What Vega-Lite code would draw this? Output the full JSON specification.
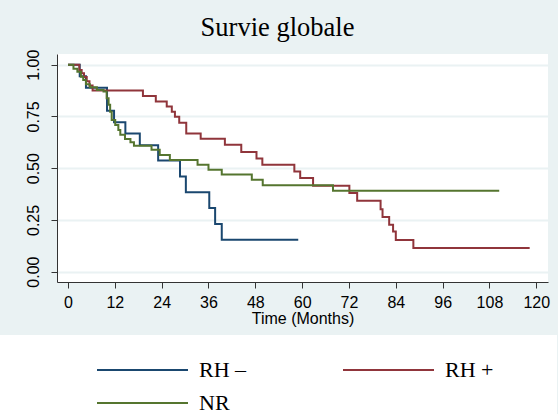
{
  "$schema": "https://vega.github.io/schema/vega-lite/v6.json",
  "width": 491,
  "height": 228,
  "autosize": {"type": "none"},
  "padding": {"left": 57, "top": 54, "right": 10, "bottom": 132},
  "background": "#EAF2F3",
  "view": {"fill": "white", "stroke": null},
  "title": {"text": "Survie globale", "font": "Liberation Serif", "fontSize": 26.5, "fontWeight": "normal", "color": "black", "anchor": "middle", "frame": "group", "dx": -25, "offset": 8},
  "data": {"values": [
    {"g": "RH –", "t": 0, "s": 1},
    {"g": "RH –", "t": 3.0, "s": 0.944},
    {"g": "RH –", "t": 4.6, "s": 0.889},
    {"g": "RH –", "t": 10.0, "s": 0.778},
    {"g": "RH –", "t": 11.8, "s": 0.722},
    {"g": "RH –", "t": 14.7, "s": 0.667},
    {"g": "RH –", "t": 18.4, "s": 0.611},
    {"g": "RH –", "t": 23.1, "s": 0.537},
    {"g": "RH –", "t": 28.7, "s": 0.46},
    {"g": "RH –", "t": 30.2, "s": 0.384},
    {"g": "RH –", "t": 36.2, "s": 0.307},
    {"g": "RH –", "t": 37.7, "s": 0.23},
    {"g": "RH –", "t": 39.4, "s": 0.154},
    {"g": "RH –", "t": 59.0, "s": 0.154},
    {"g": "RH +", "t": 0, "s": 1},
    {"g": "RH +", "t": 2.9, "s": 0.974},
    {"g": "RH +", "t": 3.5, "s": 0.958},
    {"g": "RH +", "t": 4.1, "s": 0.94},
    {"g": "RH +", "t": 4.8, "s": 0.92},
    {"g": "RH +", "t": 5.5, "s": 0.9},
    {"g": "RH +", "t": 6.3, "s": 0.875},
    {"g": "RH +", "t": 19.2, "s": 0.849},
    {"g": "RH +", "t": 22.5, "s": 0.822},
    {"g": "RH +", "t": 25.3, "s": 0.798},
    {"g": "RH +", "t": 26.6, "s": 0.773},
    {"g": "RH +", "t": 27.4, "s": 0.749},
    {"g": "RH +", "t": 28.5, "s": 0.72},
    {"g": "RH +", "t": 30.3, "s": 0.668},
    {"g": "RH +", "t": 34.0, "s": 0.642},
    {"g": "RH +", "t": 40.2, "s": 0.613},
    {"g": "RH +", "t": 44.4, "s": 0.578},
    {"g": "RH +", "t": 48.3, "s": 0.547},
    {"g": "RH +", "t": 49.8, "s": 0.516},
    {"g": "RH +", "t": 58.0, "s": 0.484},
    {"g": "RH +", "t": 59.5, "s": 0.452},
    {"g": "RH +", "t": 62.8, "s": 0.415},
    {"g": "RH +", "t": 72.1, "s": 0.38},
    {"g": "RH +", "t": 74.1, "s": 0.343},
    {"g": "RH +", "t": 80.1, "s": 0.302},
    {"g": "RH +", "t": 80.6, "s": 0.264},
    {"g": "RH +", "t": 82.3, "s": 0.227},
    {"g": "RH +", "t": 83.3, "s": 0.194},
    {"g": "RH +", "t": 84.0, "s": 0.153},
    {"g": "RH +", "t": 88.5, "s": 0.114},
    {"g": "RH +", "t": 118.3, "s": 0.114},
    {"g": "NR", "t": 0, "s": 1},
    {"g": "NR", "t": 1.4, "s": 0.98},
    {"g": "NR", "t": 2.4, "s": 0.966},
    {"g": "NR", "t": 3.3, "s": 0.942},
    {"g": "NR", "t": 3.9, "s": 0.926},
    {"g": "NR", "t": 4.6, "s": 0.905},
    {"g": "NR", "t": 5.6, "s": 0.891},
    {"g": "NR", "t": 7.4, "s": 0.878},
    {"g": "NR", "t": 9.1, "s": 0.87},
    {"g": "NR", "t": 9.9, "s": 0.838},
    {"g": "NR", "t": 10.4, "s": 0.806},
    {"g": "NR", "t": 10.8, "s": 0.773},
    {"g": "NR", "t": 11.2, "s": 0.733},
    {"g": "NR", "t": 12.1, "s": 0.709},
    {"g": "NR", "t": 12.9, "s": 0.685},
    {"g": "NR", "t": 13.4, "s": 0.661},
    {"g": "NR", "t": 14.6, "s": 0.641},
    {"g": "NR", "t": 16.0, "s": 0.625},
    {"g": "NR", "t": 16.9, "s": 0.608},
    {"g": "NR", "t": 21.4, "s": 0.589},
    {"g": "NR", "t": 23.5, "s": 0.564},
    {"g": "NR", "t": 26.1, "s": 0.54},
    {"g": "NR", "t": 33.2, "s": 0.516},
    {"g": "NR", "t": 36.0, "s": 0.492},
    {"g": "NR", "t": 39.4, "s": 0.469},
    {"g": "NR", "t": 47.1, "s": 0.444},
    {"g": "NR", "t": 49.9, "s": 0.418},
    {"g": "NR", "t": 67.9, "s": 0.391},
    {"g": "NR", "t": 110.5, "s": 0.391}
  ]},
  "mark": {"type": "line", "interpolate": "step-after", "strokeWidth": 2},
  "encoding": {
    "x": {
      "field": "t", "type": "quantitative",
      "scale": {"domain": [-2.82, 123], "nice": false, "zero": false},
      "axis": {
        "values": [0, 12, 24, 36, 48, 60, 72, 84, 96, 108, 120],
        "title": "Time (Months)",
        "grid": false,
        "domainColor": "#333333", "tickColor": "#333333", "tickSize": 6,
        "labelFont": "Liberation Sans", "labelFontSize": 16, "labelColor": "black", "labelPadding": 6,
        "labelFlush": false, "labelOverlap": false,
        "titleFont": "Liberation Sans", "titleFontSize": 16, "titleFontWeight": "normal", "titleColor": "black", "titlePadding": 0
      }
    },
    "y": {
      "field": "s", "type": "quantitative",
      "scale": {"domain": [-0.05, 1.0516], "nice": false, "zero": false},
      "axis": {
        "values": [0, 0.25, 0.5, 0.75, 1],
        "format": ".2f",
        "title": null,
        "grid": true, "gridColor": "#EAF2F3", "gridWidth": 2,
        "domainColor": "#333333", "tickColor": "#333333", "tickSize": 6,
        "labelAngle": 270,
        "labelFont": "Liberation Sans", "labelFontSize": 16, "labelColor": "black", "labelPadding": 10,
        "labelFlush": false, "labelOverlap": false
      }
    },
    "color": {
      "field": "g", "type": "nominal",
      "scale": {"domain": ["RH –", "RH +", "NR"], "range": ["#1a476f", "#90353b", "#55752f"]},
      "legend": {
        "orient": "none", "legendX": -57, "legendY": 281, "direction": "horizontal",
        "title": "\u2003", "titleOrient": "right", "titlePadding": 40, "titleFontSize": 22,
        "columns": 2, "columnPadding": 23, "rowPadding": 11, "clipHeight": 22,
        "symbolType": "stroke", "symbolSize": 8281, "symbolStrokeWidth": 2,
        "labelFont": "Liberation Serif", "labelFontSize": 22, "labelColor": "black", "labelOffset": 10,
        "fillColor": "white", "padding": 24, "symbolOffset": 72
      }
    }
  }
}
